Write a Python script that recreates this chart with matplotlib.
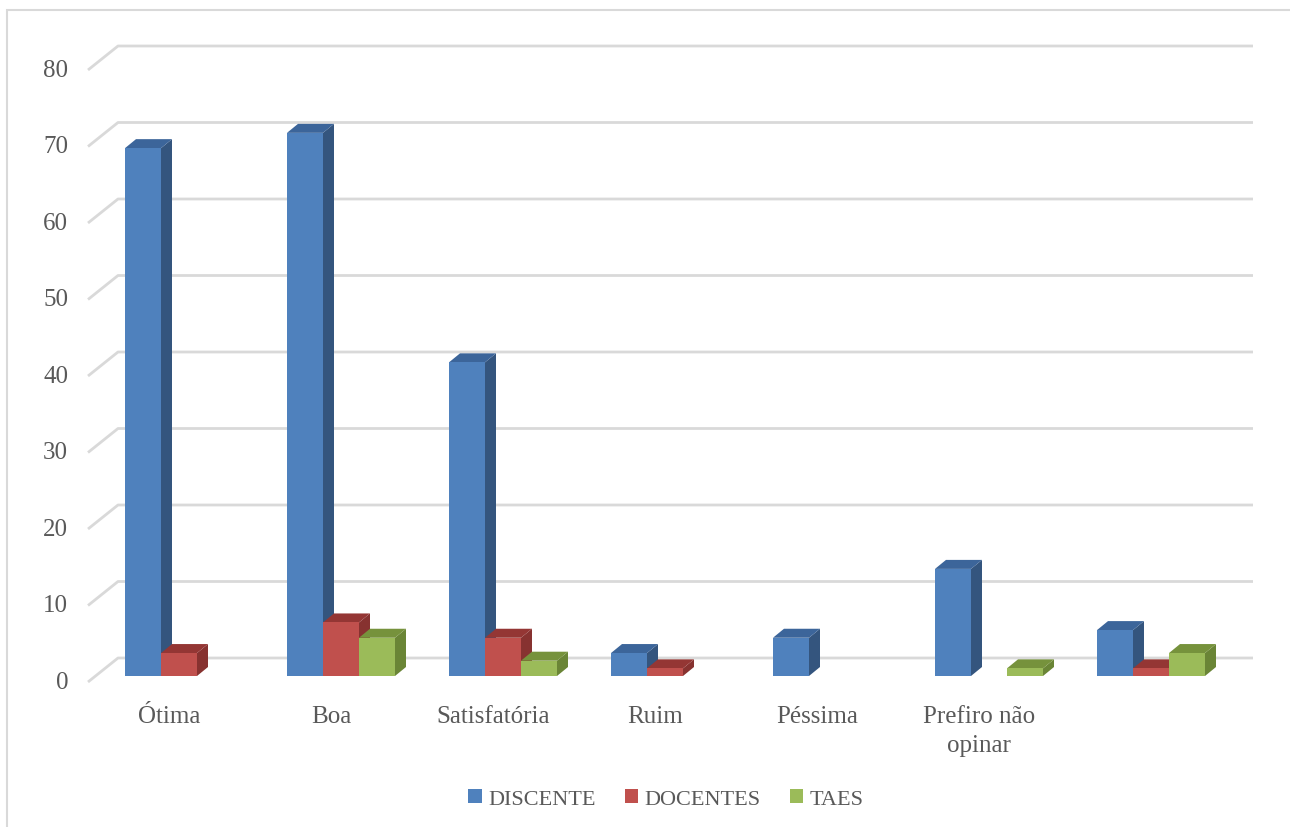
import matplotlib
matplotlib.use('Agg')
import matplotlib.pyplot as plt
from matplotlib.patches import Polygon, Rectangle, Patch

categorias = ['Ótima', 'Boa', 'Satisfatória', 'Ruim', 'Péssima', 'Prefiro não\nopinar', '']
discente = [69, 71, 41, 3, 5, 14, 6]
docentes = [3, 7, 5, 1, 0, 0, 1]
taes = [0, 5, 2, 0, 0, 1, 3]
series = ['DISCENTE', 'DOCENTES', 'TAES']
yticks = [0, 10, 20, 30, 40, 50, 60, 70, 80]

# front / top / side colours per series
cores = [('#4F81BD', '#3C659A', '#34557E'),
         ('#C0504D', '#943634', '#873230'),
         ('#9BBB59', '#76923C', '#6A8536')]
txt = '#595959'
grid = '#D9D9D9'

plt.rcParams['font.family'] = ['Liberation Serif', 'DejaVu Serif']
fs = 18
fs_leg = 16

W, H = 1290, 828
fig = plt.figure(figsize=(W/100, H/100), dpi=100)
ax = fig.add_axes([0, 0, 1, 1])
# pixel mapping: one category = 162 px, one unit = 7.65 px
px_x, px_y = 162.0, 7.65
x0pix, y0pix = 98, 677
ax.set_xlim(-x0pix/px_x, (W - x0pix)/px_x)
ax.set_ylim(-(H - y0pix)/px_y, y0pix/px_y)
ax.axis('off')

# wall offsets
back_dy = 18/px_y
slant_dx, slant_dy = 30/px_x, 24/px_y
gx0, gx1 = (118 - x0pix)/px_x, (1253 - x0pix)/px_x
for v in yticks:
    yb = v + back_dy
    ax.plot([gx0 - slant_dx, gx0, gx1], [yb - slant_dy, yb, yb], color=grid, lw=2, zorder=1,
            solid_capstyle='butt')
    ax.text((68 - x0pix)/px_x, v + back_dy - slant_dy, str(v), ha='right', va='center',
            fontsize=fs, color=txt)

# bars
bw = 36/px_x
ddx, ddy = 11/px_x, 9/px_y
z = 2
for i, cat in enumerate(categorias):
    for j, vals in enumerate([discente, docentes, taes]):
        v = vals[i]
        if v <= 0:
            continue
        front, top, side = cores[j]
        x = i + 1/6 + j*bw
        ax.add_patch(Polygon([(x+bw, 0), (x+bw+ddx, ddy), (x+bw+ddx, v+ddy), (x+bw, v)],
                             closed=True, fc=side, ec='none', zorder=z))
        ax.add_patch(Polygon([(x, v), (x+ddx, v+ddy), (x+bw+ddx, v+ddy), (x+bw, v)],
                             closed=True, fc=top, ec='none', zorder=z))
        ax.add_patch(Rectangle((x, 0), bw, v, fc=front, ec='none', zorder=z))
        z += 1
    ax.text(i + 0.5 - 10/px_x, -29/px_y, cat, ha='center', va='top', fontsize=fs,
            color=txt, linespacing=1.4)

handles = [Patch(fc=c[0], ec='none') for c in cores]
leg = fig.legend(handles, series, loc='center', bbox_to_anchor=(666/W, 1 - 800/H), ncol=3,
                 frameon=False, fontsize=fs_leg, handlelength=0.6, handleheight=0.6,
                 handletextpad=0.3, columnspacing=1.3, labelcolor=txt)

# outer chart border (clipped at right and bottom)
fig.patches.append(Rectangle((7/W, -0.1), 1.2, 1.1 - 11/H, transform=fig.transFigure,
                             fill=False, ec=grid, lw=1.5))

fig.savefig('out.png', dpi=100, facecolor='white')
